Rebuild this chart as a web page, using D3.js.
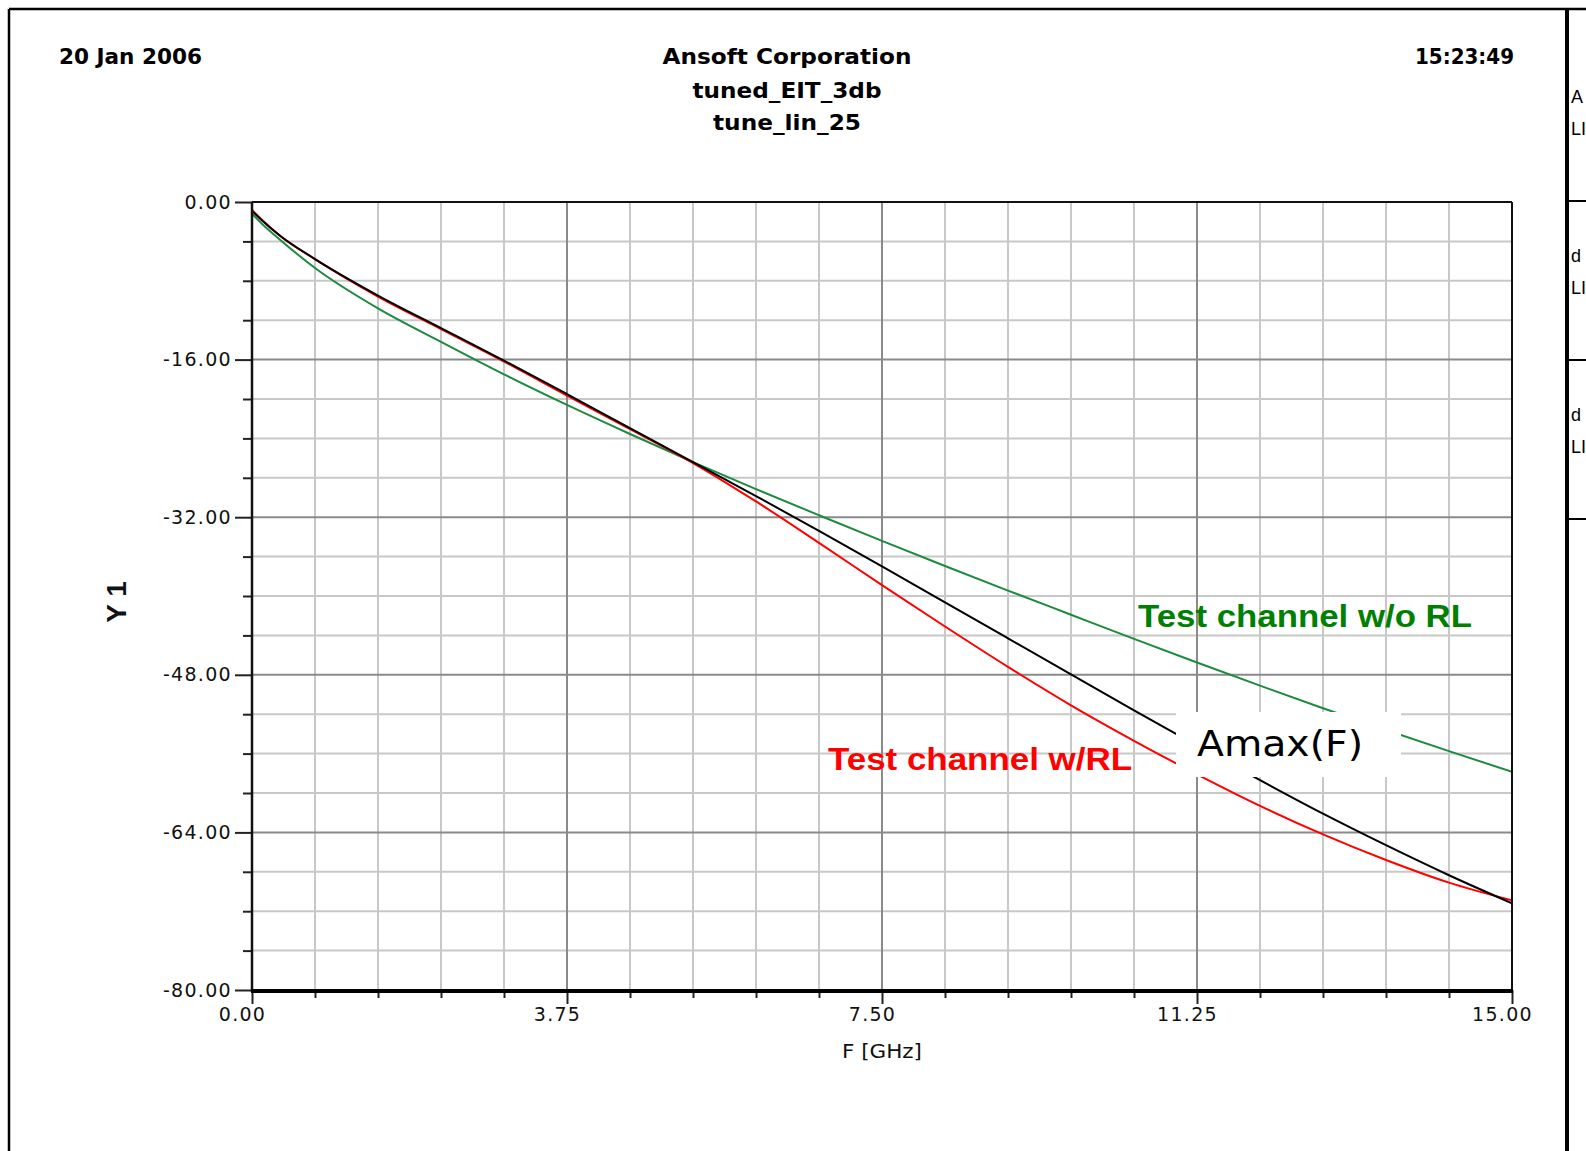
<!DOCTYPE html>
<html>
<head>
<meta charset="utf-8">
<script src="https://cdn.jsdelivr.net/npm/d3@7"></script>
<style>
  html, body { margin: 0; padding: 0; background: #ffffff; overflow: hidden; }
  svg { display: block; }
</style>
</head>
<body>
<script>
// ---------------- data ----------------
const freqs      = [0, 0.13, 0.33, 0.75, 1.5, 2.25, 3.0, 3.75, 4.5, 5.25, 6.0, 6.75, 7.5, 8.25, 9.0, 9.75, 10.5, 11.25, 12.0, 12.75, 13.5, 14.25, 15.0];
const amax       = [-0.9, -1.95, -3.4, -5.8, -9.5, -12.8, -16.1, -19.5, -22.95, -26.4, -29.85, -33.4, -37.0, -40.65, -44.3, -47.95, -51.6, -55.2, -58.7, -62.1, -65.3, -68.35, -71.2];
const withRL     = [-0.8, -1.9, -3.4, -5.8, -9.6, -12.9, -16.2, -19.65, -23.05, -26.5, -30.4, -34.6, -38.9, -43.1, -47.2, -51.1, -54.7, -58.1, -61.3, -64.2, -66.8, -69.1, -70.9];
const withoutRL  = [-1.2, -2.3, -3.8, -6.7, -10.8, -14.2, -17.5, -20.6, -23.55, -26.4, -29.15, -31.8, -34.4, -36.95, -39.45, -41.9, -44.35, -46.75, -49.1, -51.4, -53.6, -55.75, -57.85];

const yMajorTicks = [0, -16, -32, -48, -64, -80];
const yMinorTicks = [-4, -8, -12, -20, -24, -28, -36, -40, -44, -52, -56, -60, -68, -72, -76];
const xMajorTicks = [0, 3.75, 7.5, 11.25, 15];
const xMinorTicks = [0.75, 1.5, 2.25, 3.0, 4.5, 5.25, 6.0, 6.75, 8.25, 9.0, 9.75, 10.5, 12.0, 12.75, 13.5, 14.25];

const headerLeft   = "20 Jan 2006";
const headerRight  = "15:23:49";
const titleLines   = ["Ansoft Corporation", "tuned_EIT_3db", "tune_lin_25"];
const xAxisTitle   = "F [GHz]";
const yAxisTitle   = "Y 1";
const labelWithout = "Test channel w/o RL";
const labelWith    = "Test channel w/RL";
const labelAmax    = "Amax(F)";
const sidePanel    = [["A", "LI"], ["d", "LI"], ["d", "LI"]];

// ---------------- layout ----------------
const W = 1586, H = 1151;
const svg = d3.select("body").append("svg").attr("width", W).attr("height", H);

const x = d3.scaleLinear().domain([0, 15]).range([252, 1512]);
const y = d3.scaleLinear().domain([-80, 0]).range([990, 202]);
const fmt = d => d3.format(".2f")(d).replace("\u2212", "-");

// outer frame
svg.append("line").attr("x1", 9).attr("x2", W).attr("y1", 9).attr("y2", 9).attr("stroke", "#000").attr("stroke-width", 2.5);
svg.append("line").attr("x1", 9).attr("x2", 9).attr("y1", 9).attr("y2", H).attr("stroke", "#000").attr("stroke-width", 2.5);
// side panel
svg.append("line").attr("x1", 1567).attr("x2", 1567).attr("y1", 9).attr("y2", H).attr("stroke", "#000").attr("stroke-width", 4);
[201, 360, 519].forEach(v => {
  svg.append("line").attr("x1", 1567).attr("x2", W).attr("y1", v).attr("y2", v).attr("stroke", "#000").attr("stroke-width", 2);
});
sidePanel.forEach((pair, i) => {
  const base = [103, 262, 421][i];
  pair.forEach((t, j) => {
    svg.append("text").attr("x", 1571).attr("y", base + j * 32)
      .attr("font-family", "Liberation Sans, Arial, sans-serif").attr("font-size", 18)
      .attr("fill", "#000").text(t);
  });
});

// headers
const hdrFont = "DejaVu Sans, Verdana, sans-serif";
svg.append("text").attr("x", 59).attr("y", 64).attr("font-family", hdrFont).attr("font-weight", "bold")
  .attr("font-size", 21.5).attr("textLength", 143).attr("lengthAdjust", "spacingAndGlyphs").text(headerLeft);
svg.append("text").attr("x", 1415).attr("y", 64).attr("font-family", hdrFont).attr("font-weight", "bold")
  .attr("font-size", 21.5).attr("textLength", 99).attr("lengthAdjust", "spacingAndGlyphs").text(headerRight);
const titleY = [64, 98, 130];
const titleW = [249, 189, 148];
titleLines.forEach((t, i) => {
  svg.append("text").attr("x", 787).attr("y", titleY[i]).attr("text-anchor", "middle")
    .attr("font-family", hdrFont).attr("font-weight", "bold").attr("font-size", 22)
    .attr("textLength", titleW[i]).attr("lengthAdjust", "spacingAndGlyphs").text(t);
});

// grid
const grid = svg.append("g");
grid.selectAll(".hmin").data(yMinorTicks).join("line")
  .attr("x1", x(0)).attr("x2", x(15)).attr("y1", d => y(d)).attr("y2", d => y(d))
  .attr("stroke", "#c8c8c8").attr("stroke-width", 2);
grid.selectAll(".vmin").data(xMinorTicks).join("line")
  .attr("y1", y(0)).attr("y2", y(-80)).attr("x1", d => x(d)).attr("x2", d => x(d))
  .attr("stroke", "#c8c8c8").attr("stroke-width", 2);
grid.selectAll(".hmaj").data(yMajorTicks.filter(d => d !== 0 && d !== -80)).join("line")
  .attr("x1", x(0)).attr("x2", x(15)).attr("y1", d => y(d)).attr("y2", d => y(d))
  .attr("stroke", "#8a8a8a").attr("stroke-width", 2);
grid.selectAll(".vmaj").data(xMajorTicks.filter(d => d !== 0 && d !== 15)).join("line")
  .attr("y1", y(0)).attr("y2", y(-80)).attr("x1", d => x(d)).attr("x2", d => x(d))
  .attr("stroke", "#8a8a8a").attr("stroke-width", 2);

// curves
const clip = svg.append("clipPath").attr("id", "plotclip");
clip.append("rect").attr("x", x(0)).attr("y", y(0)).attr("width", x(15) - x(0)).attr("height", y(-80) - y(0));
const line = d3.line().x((d, i) => x(freqs[i])).y(d => y(d)).curve(d3.curveMonotoneX);
const curves = svg.append("g").attr("clip-path", "url(#plotclip)");
curves.append("path").attr("d", line(withoutRL)).attr("fill", "none").attr("stroke", "#1d8a40").attr("stroke-width", 2);
curves.append("path").attr("d", line(withRL)).attr("fill", "none").attr("stroke", "#ff0000").attr("stroke-width", 2);
curves.append("path").attr("d", line(amax)).attr("fill", "none").attr("stroke", "#000000").attr("stroke-width", 2);

// plot frame: top & right
svg.append("line").attr("x1", x(0)).attr("x2", x(15)).attr("y1", y(0)).attr("y2", y(0)).attr("stroke", "#111").attr("stroke-width", 2);
svg.append("line").attr("x1", x(15)).attr("x2", x(15)).attr("y1", y(0)).attr("y2", y(-80)).attr("stroke", "#111").attr("stroke-width", 2);

// axes
const tickFont = "DejaVu Sans, Verdana, sans-serif";
const yMinorAxis = svg.append("g").attr("transform", `translate(${x(0)},0)`)
  .call(d3.axisLeft(y).tickValues(yMinorTicks).tickSize(9).tickFormat(""));
const yAxis = svg.append("g").attr("transform", `translate(${x(0)},0)`)
  .call(d3.axisLeft(y).tickValues(yMajorTicks).tickSize(17).tickPadding(3).tickFormat(fmt));
[yMinorAxis, yAxis].forEach(g => {
  g.select(".domain").remove();
  g.selectAll(".tick line").attr("stroke", "#222").attr("stroke-width", 2);
});
yAxis.selectAll(".tick text").attr("font-family", tickFont).attr("font-size", 19)
  .attr("letter-spacing", "1.3px").attr("fill", "#111");
svg.append("line").attr("x1", x(0)).attr("x2", x(0)).attr("y1", y(0)).attr("y2", y(-80) + 2).attr("stroke", "#111").attr("stroke-width", 2.5);

const xMinorAxis = svg.append("g").attr("transform", `translate(0,${y(-80)})`)
  .call(d3.axisBottom(x).tickValues(xMinorTicks).tickSize(8).tickFormat(""));
const xAxis = svg.append("g").attr("transform", `translate(0,${y(-80)})`)
  .call(d3.axisBottom(x).tickValues(xMajorTicks).tickSize(14).tickPadding(2).tickFormat(fmt));
[xMinorAxis, xAxis].forEach(g => {
  g.select(".domain").remove();
  g.selectAll(".tick line").attr("stroke", "#222").attr("stroke-width", 2);
});
xAxis.selectAll(".tick text").attr("font-family", tickFont).attr("font-size", 19)
  .attr("letter-spacing", "1.3px").attr("fill", "#111").attr("dx", -10).attr("dy", "0.78em");
svg.append("line").attr("x1", x(0) - 1).attr("x2", x(15) + 1).attr("y1", y(-80) + 1).attr("y2", y(-80) + 1).attr("stroke", "#000").attr("stroke-width", 4);

// axis titles
svg.append("text").attr("x", 882).attr("y", 1058).attr("text-anchor", "middle")
  .attr("font-family", tickFont).attr("font-size", 20).attr("textLength", 80).attr("lengthAdjust", "spacingAndGlyphs")
  .attr("fill", "#111").text(xAxisTitle);
svg.append("text").attr("transform", "translate(126,602) rotate(-90)").attr("text-anchor", "middle")
  .attr("font-family", "Liberation Sans, Arial, sans-serif").attr("font-weight", "bold").attr("font-size", 28)
  .attr("fill", "#111").text(yAxisTitle);

// annotations
const annFont = "Liberation Sans, Arial, sans-serif";
svg.append("text").attr("x", 1138).attr("y", 627).attr("font-family", annFont).attr("font-weight", "bold")
  .attr("font-size", 31).attr("textLength", 334).attr("lengthAdjust", "spacingAndGlyphs")
  .attr("fill", "#008000").text(labelWithout);
svg.append("text").attr("x", 828).attr("y", 770).attr("font-family", annFont).attr("font-weight", "bold")
  .attr("font-size", 31).attr("textLength", 304).attr("lengthAdjust", "spacingAndGlyphs")
  .attr("fill", "#ff0000").text(labelWith);
svg.append("rect").attr("x", 1176).attr("y", 712).attr("width", 225).attr("height", 65).attr("fill", "#ffffff");
svg.append("text").attr("x", 1197).attr("y", 756).attr("font-family", "DejaVu Sans, Verdana, sans-serif")
  .attr("font-size", 36).attr("textLength", 166).attr("lengthAdjust", "spacingAndGlyphs")
  .attr("fill", "#000").text(labelAmax);
</script>
</body>
</html>
